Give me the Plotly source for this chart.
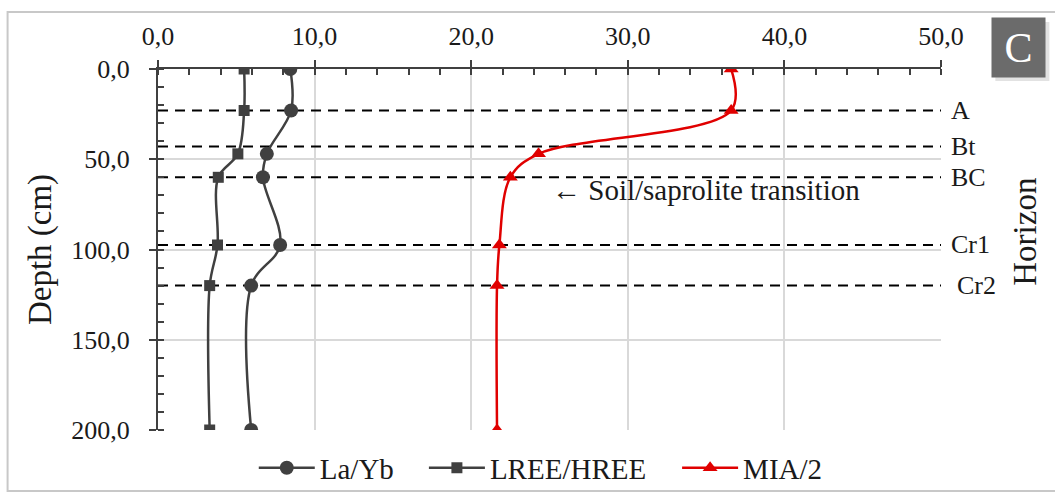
import plotly.graph_objects as go

# ---- data ----
depth_cm = [0, 23, 47, 60, 97.5, 120, 200]
la_yb = [8.45, 8.5, 6.95, 6.7, 7.8, 5.95, 5.95]
lree_hree = [5.5, 5.5, 5.1, 3.85, 3.8, 3.3, 3.3]
mia_half = [36.6, 36.6, 24.3, 22.5, 21.8, 21.65, 21.65]

horizon_names = ["A", "Bt", "BC", "Cr1", "Cr2"]
horizon_depths = [23, 43, 60, 97.5, 120]

FONT = "'Liberation Serif', 'Times New Roman', 'DejaVu Serif', serif"
AX = "#404040"
GRID = "#d9d9d9"
TXT = "#1a1a1a"

fig = go.Figure()

# horizon boundary dashed lines
for d in horizon_depths:
    fig.add_trace(go.Scatter(
        x=[0, 50], y=[d, d], mode="lines",
        line=dict(color="black", width=2, dash="10px,7px"),
        showlegend=False, hoverinfo="skip"))

fig.add_trace(go.Scatter(
    x=la_yb, y=depth_cm, name="La/Yb", mode="lines+markers", legend="legend",
    line=dict(color=AX, width=2.5, shape="spline"),
    marker=dict(symbol="circle", size=14, color=AX)))
fig.add_trace(go.Scatter(
    x=lree_hree, y=depth_cm, name="LREE/HREE", mode="lines+markers", legend="legend2",
    line=dict(color=AX, width=2.5, shape="spline"),
    marker=dict(symbol="square", size=11, color=AX)))
fig.add_trace(go.Scatter(
    x=mia_half, y=depth_cm, name="MIA/2", mode="lines+markers", legend="legend3",
    line=dict(color="#e00000", width=2.5, shape="spline"),
    marker=dict(symbol="triangle-up", size=13, color="#e00000")))

# overlay axes only to draw the inner half of major ticks
fig.add_trace(go.Scatter(x=[None], y=[None], xaxis="x2", yaxis="y2",
                         showlegend=False, hoverinfo="skip"))

tickfont = dict(family=FONT, size=26, color=TXT)


def px_x(p):
    return (p - 158.3) / 782.4


def legend_at(xpx):
    return dict(orientation="h", x=px_x(xpx), xanchor="left", y=-0.105,
                yanchor="middle", font=dict(family=FONT, size=29, color=TXT),
                bgcolor="rgba(0,0,0,0)", itemwidth=56)


fig.update_layout(
    width=1055, height=493,
    margin=dict(l=158, r=114, t=69, b=63, autoexpand=False),
    paper_bgcolor="white", plot_bgcolor="white",
    separators=", ",
    font=dict(family=FONT, color=TXT),
    xaxis=dict(
        range=[0, 50], side="top", dtick=10, tickformat=".1f",
        showline=True, linecolor=AX, linewidth=2,
        ticks="outside", ticklen=7, tickwidth=2, tickcolor=AX,
        minor=dict(dtick=2, ticks="inside", ticklen=6, tickwidth=2,
                   tickcolor=AX, showgrid=False),
        showgrid=True, gridcolor=GRID, gridwidth=1.5,
        zeroline=False, tickfont=tickfont, ticklabelstandoff=5,
        automargin=False),
    yaxis=dict(
        range=[200, 0], dtick=50, tickformat=".1f",
        showline=True, linecolor=AX, linewidth=2,
        ticks="outside", ticklen=7, tickwidth=2, tickcolor=AX,
        minor=dict(dtick=10, ticks="inside", ticklen=6, tickwidth=2,
                   tickcolor=AX, showgrid=False),
        showgrid=True, gridcolor=GRID, gridwidth=1.5,
        zeroline=False, tickfont=tickfont, ticklabelstandoff=14,
        title=dict(text="Depth (cm)", font=dict(family=FONT, size=33, color=TXT),
                   standoff=10),
        automargin=False),
    xaxis2=dict(range=[0, 50], overlaying="x", side="top", dtick=10,
                ticks="inside", ticklen=6, tickwidth=2, tickcolor=AX,
                showticklabels=False, showgrid=False, showline=False,
                zeroline=False, automargin=False, anchor="y2"),
    yaxis2=dict(range=[200, 0], overlaying="y", dtick=50,
                ticks="inside", ticklen=6, tickwidth=2, tickcolor=AX,
                showticklabels=False, showgrid=False, showline=False,
                zeroline=False, automargin=False, anchor="x2"),
    legend=legend_at(254),
    legend2=legend_at(424),
    legend3=legend_at(677),
    showlegend=True,
)

# horizon labels
for name, d in zip(horizon_names, horizon_depths):
    fig.add_annotation(x=1.0183 if name == "Cr2" else 1.0106, xref="paper",
                       y=d, yref="y", text=name, showarrow=False,
                       xanchor="left", yanchor="middle",
                       font=dict(family=FONT, size=26, color=TXT))

fig.add_annotation(x=1.108, xref="paper", y=0.548, yref="paper", text="Horizon",
                   textangle=-90, showarrow=False, xanchor="center", yanchor="middle",
                   font=dict(family=FONT, size=33, color=TXT))

fig.add_annotation(x=25.0, xref="x", y=67, yref="y",
                   text="\u2190 Soil/saprolite transition", showarrow=False,
                   xanchor="left", yanchor="middle",
                   font=dict(family=FONT, size=29, color=TXT))

# panel letter box with soft shadow
fig.add_shape(type="rect", xref="paper", yref="paper",
              x0=px_x(995), x1=px_x(1049),
              y0=(430 - 81) / 361, y1=(430 - 22) / 361,
              fillcolor="#e2e2e2", line=dict(width=0), layer="below")
fig.add_annotation(x=px_x(1018.5), xref="paper",
                   y=(430 - 47.5) / 361, yref="paper", text="C", showarrow=False,
                   width=51, height=57, borderpad=1, bgcolor="#6b6b6b",
                   xanchor="center", yanchor="middle",
                   font=dict(family=FONT, size=42, color="white"))

# outer frame
fig.add_shape(type="rect", xref="paper", yref="paper",
              x0=px_x(8), x1=px_x(1070),
              y0=(430 - 491) / 361, y1=(430 - 12) / 361,
              line=dict(color="#c8c8c8", width=2), fillcolor="rgba(0,0,0,0)",
              layer="below")

fig.write_html("out.html")
